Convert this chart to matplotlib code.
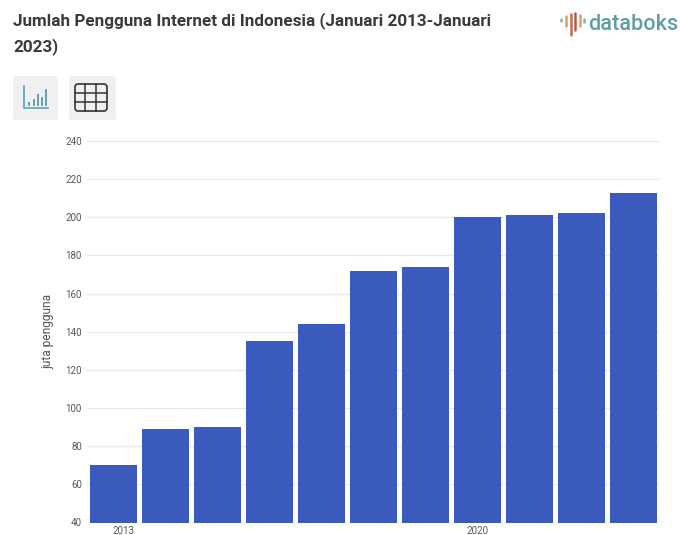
import matplotlib
matplotlib.use('Agg')
import matplotlib.pyplot as plt
import matplotlib.patches as patches
from matplotlib.transforms import ScaledTranslation

years = [2013, 2014, 2015, 2016, 2017, 2018, 2019, 2020, 2021, 2022, 2023]
users = [70, 89, 90, 135, 144, 172, 174, 200, 201, 202, 213]
y_ticks = [40, 60, 80, 100, 120, 140, 160, 180, 200, 220, 240]
shown_years = [2013, 2020]

W, H = 680, 535
plt.rcParams['font.family'] = ['Roboto', 'DejaVu Sans']

fig = plt.figure(figsize=(W / 100, H / 100), dpi=100)

# Main bar chart
ax = fig.add_axes([87.4 / W, 1 - 522.5 / H, 572 / W, 381.5 / H])
ax.bar(years, users, width=0.9, color='#3a5bbd', zorder=3)
ax.set_xlim(2012.5, 2023.5)
ax.set_ylim(40, 240)
ax.set_yticks(y_ticks)
ax.set_xticks(shown_years)
ax.tick_params(axis='both', length=0, labelsize=7, labelcolor='#555555')
ax.tick_params(axis='y', pad=4)
ax.tick_params(axis='x', pad=2.2)
ax.grid(axis='y', color='#e8e8e8', linewidth=0.9, zorder=0)
for side in ax.spines:
    ax.spines[side].set_visible(False)
ax.set_ylabel('juta pengguna', fontsize=8.6, color='#555555', labelpad=8)

# First year label sits inside the plot edge, right of its bar centre
first = ax.get_xticklabels()[0]
first.set_transform(first.get_transform() + ScaledTranslation(10 / 100, 0, fig.dpi_scale_trans))

# Overlay in pixel coordinates for the header and buttons
ov = fig.add_axes([0, 0, 1, 1], zorder=5)
ov.set_xlim(0, W)
ov.set_ylim(H, 0)
ov.axis('off')

ov.text(13, 21, 'Jumlah Pengguna Internet di Indonesia (Januari 2013-Januari',
        fontsize=12.3, fontweight='bold', color='#3a3a3a', va='center')
ov.text(13, 47, '2023)', fontsize=12.3, fontweight='bold', color='#3a3a3a', va='center')

# Logo
stems = [(561, 19, 21), (566, 16, 26), (571, 14, 35), (575, 13, 30), (580, 15, 26), (584, 19, 22)]
stem_colors = ['#8fb0a8', '#d9a05b', '#c8694f', '#b5544a', '#d9a05b', '#8fb0a8']
for (x, y0, y1), c in zip(stems, stem_colors):
    ov.plot([x, x], [y0, y1], color=c, linewidth=1.8, solid_capstyle='round')
ov.text(588, 25, 'databoks', fontsize=15.6, fontweight='medium', color='#5f9ea3', va='center')

# Chart and table buttons
ov.add_patch(patches.FancyBboxPatch((13, 76), 45, 44, boxstyle='round,pad=0,rounding_size=3',
                                    facecolor='#f0f0f0', edgecolor='none'))
ov.add_patch(patches.FancyBboxPatch((69, 76), 47, 44, boxstyle='round,pad=0,rounding_size=3',
                                    facecolor='#f0f0f0', edgecolor='none'))

# Bar icon
ov.plot([24, 24, 48], [86, 108, 108], color='#5ba3b5', linewidth=1.2)
icon_x = [29, 34, 38, 42, 46]
icon_top = [103, 100, 95, 98, 90]
for x, top in zip(icon_x, icon_top):
    ov.plot([x, x], [105, top], color='#5ba3b5', linewidth=1.4)

# Table icon
ov.add_patch(patches.FancyBboxPatch((75, 84), 32, 27, boxstyle='round,pad=0,rounding_size=3',
                                    facecolor='none', edgecolor='#333333', linewidth=1.2))
for x in [85, 96]:
    ov.plot([x, x], [84, 111], color='#333333', linewidth=1.1)
for y in [93, 102]:
    ov.plot([75, 107], [y, y], color='#333333', linewidth=1.1)

fig.savefig('out.png', dpi=100, facecolor='white')
